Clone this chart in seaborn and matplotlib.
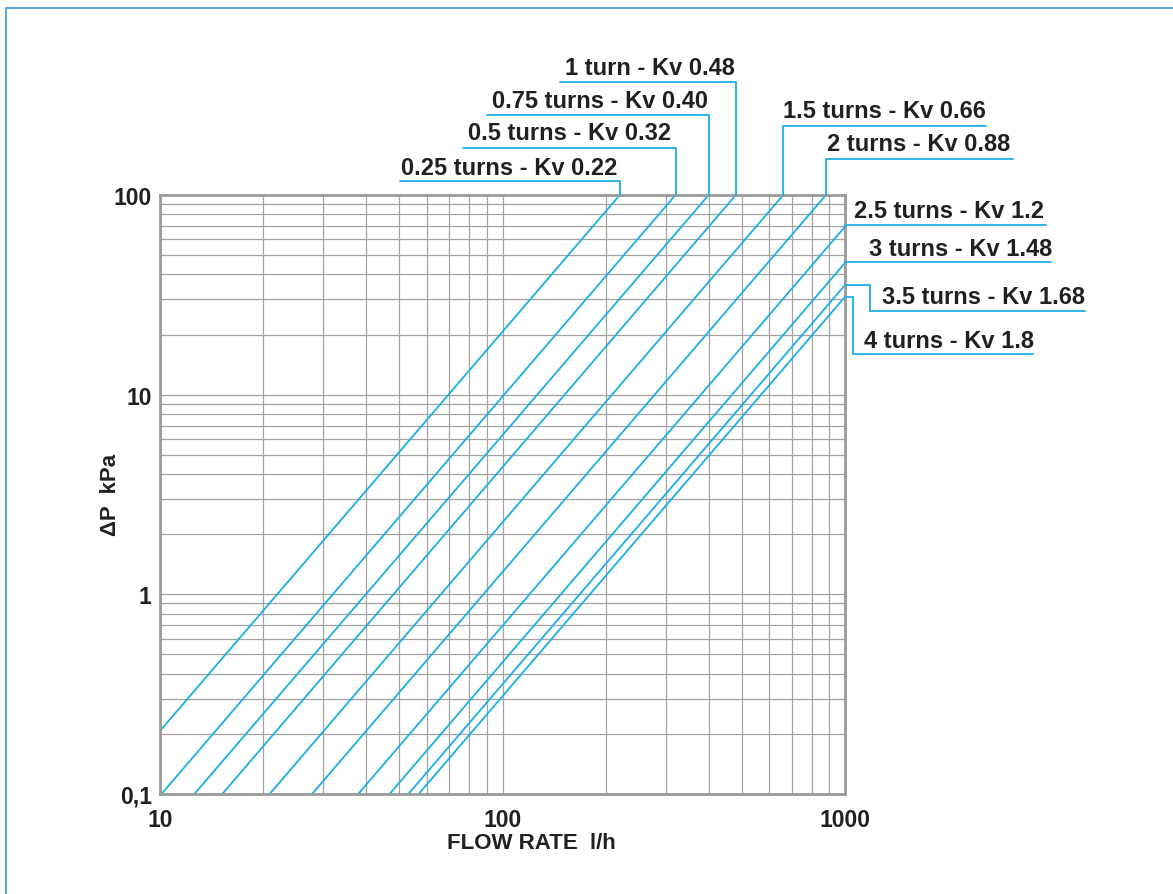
import matplotlib
matplotlib.use("Agg")
import matplotlib.pyplot as plt
from matplotlib.lines import Line2D
from matplotlib.ticker import FixedLocator, FixedFormatter, NullFormatter, NullLocator
import numpy as np
import pandas as pd
import seaborn as sns

# ---------------- data ----------------
series_labels = [
    "0.25 turns - Kv 0.22",
    "0.5 turns - Kv 0.32",
    "0.75 turns - Kv 0.40",
    "1 turn - Kv 0.48",
    "1.5 turns - Kv 0.66",
    "2 turns - Kv 0.88",
    "2.5 turns - Kv 1.2",
    "3 turns - Kv 1.48",
    "3.5 turns - Kv 1.68",
    "4 turns - Kv 1.8",
]
flow_start = [10, 10.1, 12.6, 15.2, 20.9, 27.8, 37.9, 46.8, 53.1, 56.9]
dp_start = [0.207, 0.1, 0.1, 0.1, 0.1, 0.1, 0.1, 0.1, 0.1, 0.1]
flow_end = [220, 320, 400, 480, 660, 880, 1000, 1000, 1000, 1000]
dp_end = [100, 100, 100, 100, 100, 100, 69.4, 45.7, 35.4, 30.9]

x_ticks = [10, 100, 1000]
x_tick_labels = ["10", "100", "1000"]
y_ticks = [0.1, 1, 10, 100]
y_tick_labels = ["0,1", "1", "10", "100"]

# ---------------- layout (pixel positions in the 1173x895 picture) ----------------
W, H = 1173, 895
AX_L, AX_R, AX_T, AX_B = 160, 845, 196, 795
# text left x, text baseline y, knee x (None = curve x), underline y, far end x
label_layout = [
    (401, 175.0, None, 182, 400),
    (468, 139.5, None, 149, 463),
    (492, 108.5, None, 116, 487),
    (565, 75.0, None, 83, 560),
    (783, 117.5, None, 127, 986),
    (827, 151.0, None, 160, 1013),
    (854, 217.5, None, 226, 1046),
    (869, 256.0, None, 263, 1051),
    (882, 303.5, 870, 312, 1085),
    (864, 348.5, 853, 355, 1033),
]

CYAN = "#1aaee6"
GRID = "#a3a3a3"
SPINE = "#9a9a9a"
TEXT = "#231f20"

sns.set_style("white")
plt.rcParams["font.family"] = ["Liberation Sans", "DejaVu Sans"]

fig = plt.figure(figsize=(W / 100, H / 100), dpi=100)
ax = fig.add_axes([AX_L / W, 1 - AX_B / H, (AX_R - AX_L) / W, (AX_B - AX_T) / H])

rows = []
for lab, fs, ds, fe, de in zip(series_labels, flow_start, dp_start, flow_end, dp_end):
    rows.append({"series": lab, "flow": fs, "dp": ds, "order": 0})
    rows.append({"series": lab, "flow": fe, "dp": de, "order": 1})
df = pd.DataFrame(rows)

ax.set_xscale("log")
ax.set_yscale("log")
sns.lineplot(data=df, x="flow", y="dp", hue="series", units="series", estimator=None,
             sort=False, palette=[CYAN] * len(series_labels), legend=False,
             linewidth=1.3, ax=ax, zorder=3)
ax.set_xlim(10, 1000)
ax.set_ylim(0.1, 100)

# grid
xg = [m * 10 ** e for e in (1, 2) for m in range(1, 10)] + [1000]
yg = [m * 10 ** e for e in (-1, 0, 1) for m in range(1, 10)] + [100]
for v in xg:
    ax.axvline(v, color=GRID, lw=0.9, zorder=1)
for v in yg:
    ax.axhline(v, color=GRID, lw=0.9, zorder=1)

for s in ax.spines.values():
    s.set_color(SPINE)
    s.set_linewidth(2.0)
    s.set_zorder(4)

ax.xaxis.set_major_locator(FixedLocator(x_ticks))
ax.xaxis.set_major_formatter(FixedFormatter(x_tick_labels))
ax.xaxis.set_minor_locator(NullLocator())
ax.yaxis.set_major_locator(FixedLocator(y_ticks))
ax.yaxis.set_major_formatter(FixedFormatter(y_tick_labels))
ax.yaxis.set_minor_locator(NullLocator())
ax.tick_params(axis="both", which="major", direction="out", length=5, width=1.5,
               color=SPINE, labelcolor=TEXT, labelsize=16.5)
ax.tick_params(axis="y", pad=1)
ax.tick_params(axis="x", pad=5)
for t in ax.get_xticklabels() + ax.get_yticklabels():
    t.set_fontweight("bold")
ax.set_xlabel("")
ax.set_ylabel("")


def to_ax(xp, yp):
    return ((xp - AX_L) / (AX_R - AX_L), (AX_B - yp) / (AX_B - AX_T))


ax.text(*to_ax(531, 844), "FLOW RATE  l/h", transform=ax.transAxes, ha="center",
        va="center", fontsize=16, fontweight="bold", color=TEXT)
ax.text(*to_ax(111, 495), "\u0394P  kPa", transform=ax.transAxes, ha="center",
        va="center", rotation=90, fontsize=16, fontweight="bold", color=TEXT)

# labels with leader lines
inv = ax.transAxes.inverted()
for lab, fe, de, (tx, ty, kx, uy, fx) in zip(series_labels, flow_end, dp_end, label_layout):
    cx, cy = inv.transform(ax.transData.transform((fe, de)))
    if kx is None:
        kxa = cx
    else:
        kxa = to_ax(kx, 0)[0]
    uya = to_ax(0, uy)[1]
    fxa = to_ax(fx, 0)[0]
    ax.add_line(Line2D([cx, kxa, kxa, fxa], [cy, cy, uya, uya], transform=ax.transAxes,
                       color=CYAN, lw=1.3, clip_on=False, zorder=5))
    ax.text(*to_ax(tx, ty), lab, transform=ax.transAxes, ha="left", va="baseline",
            fontsize=17, fontweight="bold", color=TEXT)

# thin frame lines at top and left of the picture
BORDER = "#4aa3df"
fig.add_artist(Line2D([5.5 / W, 1], [1 - 8.5 / H, 1 - 8.5 / H], transform=fig.transFigure,
                      color=BORDER, lw=1.3))
fig.add_artist(Line2D([5.5 / W, 5.5 / W], [0, 1 - 8.5 / H], transform=fig.transFigure,
                      color=BORDER, lw=1.3))

fig.savefig("out.png", dpi=100, facecolor="white")
